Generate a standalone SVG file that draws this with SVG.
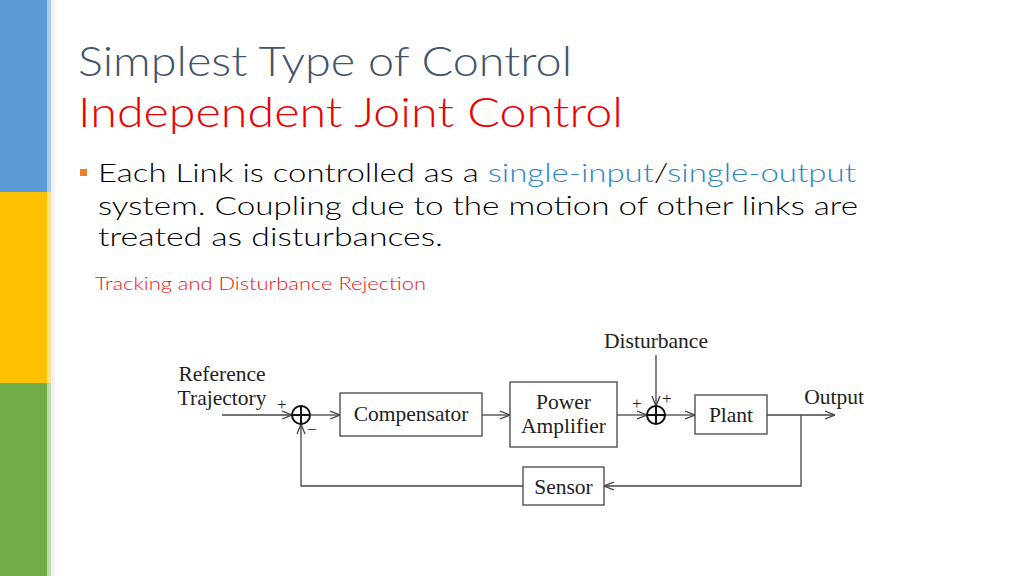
<svg xmlns="http://www.w3.org/2000/svg" width="1024" height="576" viewBox="0 0 1024 576">
<defs>
<marker id="arr" viewBox="0 0 10 10" refX="10" refY="5" markerWidth="10" markerHeight="10" markerUnits="userSpaceOnUse" orient="auto">
<path d="M0,1 L10,5 L0,9" fill="none" stroke="#444" stroke-width="1.3"/>
</marker>
<style>
.ttl{font-family:Lato,"Liberation Sans","DejaVu Sans",sans-serif;font-size:41px;font-weight:300}
.body{font-family:Lato,"Liberation Sans","DejaVu Sans",sans-serif;font-size:26px;font-weight:300;fill:#000}
.blue{fill:#2E86C8}
.lbl{font-family:"Liberation Serif","DejaVu Serif",serif;font-size:21.5px;fill:#222}
.box{fill:#fff;stroke:#444;stroke-width:1.3}
.sum{fill:#fff;stroke:#111;stroke-width:2}
.ln{fill:none;stroke:#444;stroke-width:1.3}
.arr{marker-end:url(#arr)}
.sign{font-family:"Liberation Serif","DejaVu Serif",serif;font-size:17px;fill:#222}
</style>
</defs>
<rect width="1024" height="576" fill="#fff"/>
<rect x="0" y="0" width="47" height="192" fill="#5B9BD5"/>
<rect x="0" y="192" width="47" height="191" fill="#FFC000"/>
<rect x="0" y="383" width="47" height="193" fill="#70AD47"/>
<rect x="47" y="0" width="4" height="192" fill="#A9CCEB"/>
<rect x="47" y="192" width="4" height="191" fill="#FFE08A"/>
<rect x="47" y="383" width="4" height="193" fill="#BCD9A8"/>
<rect x="51" y="0" width="4" height="576" fill="#F2F2F2"/>

<text class="ttl" x="78" y="76" fill="#44546A" textLength="494" lengthAdjust="spacingAndGlyphs">Simplest Type of Control</text>
<text class="ttl" x="78" y="127" fill="#EE0000" textLength="545" lengthAdjust="spacingAndGlyphs">Independent Joint Control</text>

<rect x="80" y="169" width="7" height="7" fill="#ED7D31"/>
<text class="body" x="98" y="182" textLength="758" lengthAdjust="spacingAndGlyphs">Each Link is controlled as a <tspan class="blue">single-input</tspan>/<tspan class="blue">single-output</tspan></text>
<text class="body" x="98" y="215" textLength="760" lengthAdjust="spacingAndGlyphs">system. Coupling due to the motion of other links are</text>
<text class="body" x="98" y="246" textLength="345" lengthAdjust="spacingAndGlyphs">treated as disturbances.</text>
<text x="95" y="290" font-family="Lato, Liberation Sans, DejaVu Sans, sans-serif" font-size="17" font-weight="300" fill="#EE1111" textLength="331" lengthAdjust="spacingAndGlyphs">Tracking and Disturbance Rejection</text>

<g id="connectors">
<line class="ln arr" x1="222" y1="415" x2="292" y2="415"/>
<line class="ln arr" x1="311" y1="415" x2="340" y2="415"/>
<line class="ln arr" x1="482" y1="415" x2="510" y2="415"/>
<line class="ln arr" x1="617" y1="415" x2="647" y2="415"/>
<line class="ln arr" x1="656" y1="355" x2="656" y2="406"/>
<line class="ln arr" x1="665" y1="415" x2="695" y2="415"/>
<line class="ln arr" x1="767" y1="415" x2="835" y2="415"/>
<polyline class="ln arr" points="801,415 801,486 604,486"/>
<polyline class="ln arr" points="523,486 301,486 301,424"/>
</g>

<g id="sum1">
<circle class="sum" cx="301" cy="415" r="9"/>
<line class="sum" x1="292" y1="415" x2="310" y2="415"/>
<line class="sum" x1="301" y1="406" x2="301" y2="424"/>
<text class="sign" x="277" y="410">+</text>
<text class="sign" x="307" y="435">−</text>
</g>
<g id="sum2">
<circle class="sum" cx="656" cy="415" r="9"/>
<line class="sum" x1="647" y1="415" x2="665" y2="415"/>
<line class="sum" x1="656" y1="406" x2="656" y2="424"/>
<text class="sign" x="632" y="409">+</text>
<text class="sign" x="662" y="404">+</text>
</g>

<g id="reference">
<text class="lbl" x="222" y="381" text-anchor="middle">Reference</text>
<text class="lbl" x="222" y="405" text-anchor="middle">Trajectory</text>
</g>
<g id="compensator">
<rect class="box" x="340" y="393" width="142" height="43"/>
<text class="lbl" x="411" y="421" text-anchor="middle">Compensator</text>
</g>
<g id="amplifier">
<rect class="box" x="510" y="382" width="107" height="65"/>
<text class="lbl" x="563.5" y="409" text-anchor="middle">Power</text>
<text class="lbl" x="563.5" y="433" text-anchor="middle">Amplifier</text>
</g>
<g id="disturbance">
<text class="lbl" x="656" y="348" text-anchor="middle">Disturbance</text>
</g>
<g id="plant">
<rect class="box" x="695" y="395" width="72" height="39"/>
<text class="lbl" x="731" y="422" text-anchor="middle">Plant</text>
</g>
<g id="output">
<text class="lbl" x="834" y="404" text-anchor="middle">Output</text>
</g>
<g id="sensor">
<rect class="box" x="523" y="467" width="81" height="38"/>
<text class="lbl" x="563.5" y="494" text-anchor="middle">Sensor</text>
</g>
</svg>
